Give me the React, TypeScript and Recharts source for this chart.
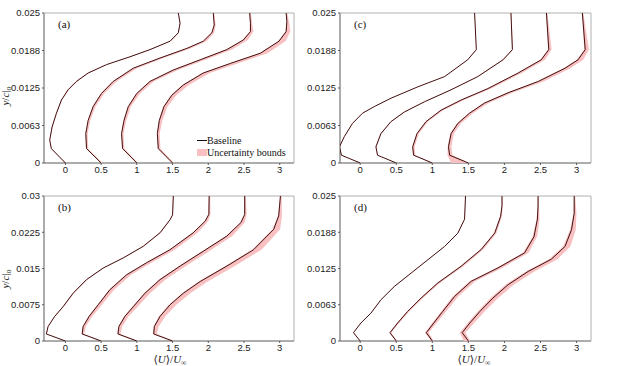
import React from 'react';
import { ScatterChart, Scatter, XAxis, YAxis } from 'recharts';

// each point: [u, y, band below, band above]
type P = [number, number, number, number];

const xTicks = [0, 0.5, 1, 1.5, 2, 2.5, 3];

const yTicks025 = [0, 0.00625, 0.0125, 0.01875, 0.025];
const yLabels025 = ['0', '0.0063', '0.0125', '0.0188', '0.025'];
const yMinor025 = [
  0, 0.00125, 0.0025, 0.00375, 0.005, 0.00625, 0.0075, 0.00875, 0.01, 0.01125, 0.0125,
  0.01375, 0.015, 0.01625, 0.0175, 0.01875, 0.02, 0.02125, 0.0225, 0.02375, 0.025,
];

const yTicks03 = [0, 0.0075, 0.015, 0.0225, 0.03];
const yLabels03 = ['0', '0.0075', '0.015', '0.0225', '0.03'];
const yMinor03 = [
  0, 0.0015, 0.003, 0.0045, 0.006, 0.0075, 0.009, 0.0105, 0.012, 0.0135, 0.015,
  0.0165, 0.018, 0.0195, 0.021, 0.0225, 0.024, 0.0255, 0.027, 0.0285, 0.03,
];

// panel (a)
const a1: P[] = [
  [0, 0, 0.003, 0.006], [-0.197, 0.0024, 0.003, 0.006], [-0.22, 0.0038, 0.003, 0.006],
  [-0.187, 0.006, 0.003, 0.006], [-0.126, 0.0083, 0.003, 0.008], [-0.056, 0.0105, 0.003, 0.01],
  [0.037, 0.0122, 0.004, 0.012], [0.154, 0.0136, 0.004, 0.014], [0.318, 0.015, 0.004, 0.014],
  [0.576, 0.0164, 0.004, 0.014], [0.903, 0.0177, 0.004, 0.014], [1.184, 0.0189, 0.004, 0.014],
  [1.465, 0.0203, 0.004, 0.012], [1.58, 0.0217, 0.003, 0.008], [1.605, 0.0233, 0.003, 0.006],
  [1.58, 0.025, 0.003, 0.006],
];
const a2: P[] = [
  [0.5, 0, 0.005, 0.015], [0.295, 0.0024, 0.005, 0.022], [0.285, 0.0049, 0.006, 0.027],
  [0.318, 0.0071, 0.006, 0.03], [0.388, 0.0094, 0.008, 0.033], [0.505, 0.0116, 0.008, 0.039],
  [0.67, 0.0136, 0.01, 0.045], [0.95, 0.0158, 0.01, 0.052], [1.325, 0.0175, 0.01, 0.052],
  [1.7, 0.0191, 0.01, 0.052], [1.93, 0.0203, 0.008, 0.045], [2.05, 0.0217, 0.006, 0.033],
  [2.083, 0.023, 0.004, 0.021], [2.07, 0.025, 0.003, 0.012],
];
const a3: P[] = [
  [1, 0, 0.005, 0.015], [0.8, 0.0024, 0.006, 0.024], [0.786, 0.0049, 0.006, 0.027],
  [0.82, 0.0071, 0.008, 0.033], [0.88, 0.0094, 0.008, 0.037], [1.0, 0.0116, 0.01, 0.045],
  [1.184, 0.0136, 0.012, 0.052], [1.51, 0.0155, 0.014, 0.065], [1.886, 0.0172, 0.015, 0.075],
  [2.26, 0.0189, 0.015, 0.075], [2.49, 0.0205, 0.012, 0.063], [2.59, 0.0219, 0.008, 0.042],
  [2.59, 0.0233, 0.005, 0.024], [2.58, 0.025, 0.004, 0.015],
];
const a4: P[] = [
  [1.5, 0, 0.006, 0.018], [1.3, 0.0024, 0.008, 0.03], [1.287, 0.0049, 0.008, 0.033],
  [1.315, 0.0071, 0.01, 0.042], [1.38, 0.0094, 0.012, 0.05], [1.49, 0.0113, 0.014, 0.062],
  [1.65, 0.013, 0.016, 0.078], [1.93, 0.015, 0.018, 0.092], [2.31, 0.0166, 0.02, 0.1],
  [2.73, 0.0183, 0.02, 0.1], [2.99, 0.0203, 0.016, 0.09], [3.09, 0.0219, 0.01, 0.06],
  [3.1, 0.0236, 0.006, 0.03], [3.09, 0.025, 0.004, 0.015],
];

// panel (b)
const b1: P[] = [
  [0, 0, 0.003, 0.006], [-0.267, 0.00145, 0.003, 0.006], [-0.243, 0.003, 0.003, 0.006],
  [-0.15, 0.0051, 0.003, 0.008], [-0.033, 0.0071, 0.003, 0.01], [0.108, 0.0099, 0.004, 0.012],
  [0.295, 0.0127, 0.004, 0.014], [0.529, 0.0151, 0.004, 0.014], [0.81, 0.0172, 0.004, 0.014],
  [1.09, 0.0196, 0.004, 0.014], [1.325, 0.0224, 0.004, 0.012], [1.465, 0.0251, 0.003, 0.008],
  [1.5, 0.0261, 0.003, 0.006], [1.51, 0.03, 0.003, 0.006],
];
const b2: P[] = [
  [0.5, 0, 0.005, 0.015], [0.234, 0.00145, 0.006, 0.03], [0.248, 0.003, 0.008, 0.037],
  [0.332, 0.0051, 0.01, 0.045], [0.459, 0.0075, 0.01, 0.052], [0.622, 0.0106, 0.012, 0.06],
  [0.856, 0.0137, 0.012, 0.063], [1.137, 0.0162, 0.012, 0.067], [1.465, 0.0189, 0.012, 0.067],
  [1.79, 0.0224, 0.01, 0.06], [1.956, 0.0248, 0.008, 0.042], [2.008, 0.0262, 0.005, 0.022],
  [2.012, 0.03, 0.004, 0.015],
];
const b3: P[] = [
  [1, 0, 0.006, 0.018], [0.735, 0.00145, 0.008, 0.037], [0.749, 0.003, 0.01, 0.045],
  [0.833, 0.0051, 0.012, 0.052], [0.95, 0.0071, 0.014, 0.06], [1.114, 0.0099, 0.015, 0.072],
  [1.325, 0.0127, 0.016, 0.078], [1.605, 0.0155, 0.016, 0.082], [1.933, 0.0186, 0.016, 0.082],
  [2.26, 0.0217, 0.014, 0.075], [2.457, 0.0245, 0.01, 0.052], [2.51, 0.0262, 0.006, 0.027],
  [2.51, 0.03, 0.004, 0.015],
];
const b4: P[] = [
  [1.5, 0, 0.008, 0.022], [1.236, 0.00145, 0.01, 0.045], [1.245, 0.003, 0.012, 0.06],
  [1.325, 0.0051, 0.016, 0.075], [1.465, 0.0075, 0.018, 0.087], [1.652, 0.0099, 0.02, 0.097],
  [1.886, 0.0123, 0.022, 0.105], [2.26, 0.0155, 0.022, 0.11], [2.635, 0.0189, 0.022, 0.11],
  [2.916, 0.0231, 0.018, 0.09], [2.986, 0.0259, 0.01, 0.045], [3.01, 0.03, 0.005, 0.018],
];

// panel (c)
const c1: P[] = [
  [0, 0, 0.002, 0.004], [-0.26, 0.0013, 0.002, 0.004], [-0.287, 0.0027, 0.002, 0.004],
  [-0.22, 0.0044, 0.002, 0.004], [-0.107, 0.0066, 0.002, 0.004], [0.032, 0.0083, 0.002, 0.004],
  [0.195, 0.0094, 0.002, 0.004], [0.427, 0.0108, 0.002, 0.004], [0.8, 0.0127, 0.002, 0.005],
  [1.17, 0.0144, 0.002, 0.005], [1.49, 0.0172, 0.002, 0.005], [1.61, 0.0189, 0.002, 0.004],
  [1.586, 0.025, 0.002, 0.004],
];
const c2: P[] = [
  [0.5, 0, 0.003, 0.006], [0.24, 0.0013, 0.003, 0.008], [0.218, 0.0027, 0.003, 0.008],
  [0.287, 0.0049, 0.004, 0.01], [0.427, 0.0069, 0.004, 0.01], [0.612, 0.0085, 0.004, 0.012],
  [0.89, 0.0102, 0.004, 0.012], [1.26, 0.0122, 0.004, 0.012], [1.63, 0.0144, 0.004, 0.012],
  [1.98, 0.0172, 0.004, 0.012], [2.11, 0.0189, 0.003, 0.01], [2.09, 0.025, 0.003, 0.006],
];
const c3: P[] = [
  [1, 0, 0.006, 0.015], [0.74, 0.0013, 0.008, 0.026], [0.728, 0.0027, 0.008, 0.026],
  [0.788, 0.0049, 0.008, 0.026], [0.913, 0.0069, 0.008, 0.029], [1.12, 0.0088, 0.01, 0.034],
  [1.4, 0.0105, 0.012, 0.042], [1.77, 0.0124, 0.012, 0.047], [2.19, 0.015, 0.014, 0.052],
  [2.51, 0.0172, 0.014, 0.052], [2.615, 0.0189, 0.01, 0.039], [2.582, 0.025, 0.004, 0.013],
];
const c4: P[] = [
  [1.5, 0, 0.24, 0.013], [1.24, 0.0013, 0.03, 0.04], [1.224, 0.0027, 0.012, 0.04],
  [1.26, 0.0049, 0.012, 0.04], [1.354, 0.0066, 0.012, 0.042], [1.516, 0.0083, 0.014, 0.047],
  [1.725, 0.01, 0.016, 0.055], [2.05, 0.0117, 0.018, 0.062], [2.47, 0.0136, 0.02, 0.072],
  [2.84, 0.0158, 0.02, 0.075], [3.02, 0.0172, 0.018, 0.072], [3.12, 0.0189, 0.014, 0.052],
  [3.08, 0.025, 0.004, 0.013],
];

// panel (d)
const d1: P[] = [
  [0, 0, 0.002, 0.004], [-0.093, 0.00144, 0.002, 0.004], [0.009, 0.0031, 0.002, 0.004],
  [0.148, 0.0048, 0.002, 0.005], [0.287, 0.0071, 0.002, 0.005], [0.473, 0.0094, 0.002, 0.005],
  [0.705, 0.0117, 0.002, 0.005], [0.937, 0.014, 0.002, 0.005], [1.17, 0.0163, 0.002, 0.005],
  [1.354, 0.0186, 0.002, 0.005], [1.447, 0.021, 0.002, 0.004], [1.46, 0.025, 0.002, 0.004],
];
const d2: P[] = [
  [0.5, 0, 0.006, 0.013], [0.413, 0.00144, 0.008, 0.018], [0.519, 0.0031, 0.01, 0.021],
  [0.658, 0.0051, 0.01, 0.023], [0.844, 0.0074, 0.01, 0.026], [1.076, 0.01, 0.012, 0.029],
  [1.4, 0.0129, 0.012, 0.031], [1.679, 0.0158, 0.012, 0.031], [1.865, 0.0186, 0.01, 0.026],
  [1.947, 0.0215, 0.008, 0.018], [1.966, 0.0233, 0.005, 0.01], [1.966, 0.025, 0.004, 0.008],
];
const d3: P[] = [
  [1, 0, 0.015, 0.02], [0.917, 0.00144, 0.02, 0.032], [1.02, 0.0031, 0.022, 0.039],
  [1.145, 0.0051, 0.024, 0.045], [1.31, 0.0077, 0.025, 0.052], [1.54, 0.0103, 0.025, 0.055],
  [1.91, 0.0126, 0.025, 0.058], [2.28, 0.0152, 0.022, 0.055], [2.41, 0.018, 0.018, 0.044],
  [2.457, 0.021, 0.012, 0.029], [2.466, 0.0233, 0.006, 0.013], [2.466, 0.025, 0.004, 0.008],
];
const d4: P[] = [
  [1.5, 0, 0.06, 0.026], [1.414, 0.00144, 0.035, 0.045], [1.52, 0.0031, 0.03, 0.058],
  [1.66, 0.0051, 0.032, 0.065], [1.84, 0.0074, 0.035, 0.072], [2.05, 0.0097, 0.035, 0.078],
  [2.33, 0.012, 0.035, 0.085], [2.65, 0.0141, 0.032, 0.085], [2.84, 0.0163, 0.028, 0.075],
  [2.93, 0.0192, 0.02, 0.058], [2.967, 0.022, 0.01, 0.032], [2.967, 0.025, 0.005, 0.013],
];

const LINE = '#421010';
const BAND = '#f8c0c0';
const AXIS = '#5a5a5a';
const BOX = '#b0b0b0';
const SANS = '"Liberation Sans", Arial, sans-serif';
const SERIF = '"Liberation Serif", "DejaVu Serif", serif';

const panels = [
  { label: '(a)', left: 0, top: 0, width: 311, height: 183, yw: 44, mr: 17, mt: 13, xh: 20,
    xMin: -0.3, yMax: 0.025, yTicks: yTicks025, yLabels: yLabels025, yMinor: yMinor025, profiles: [a1, a2, a3, a4] },
  { label: '(b)', left: 0, top: 183, width: 311, height: 183, yw: 44, mr: 17, mt: 13, xh: 25,
    xMin: -0.3, yMax: 0.03, yTicks: yTicks03, yLabels: yLabels03, yMinor: yMinor03, profiles: [b1, b2, b3, b4] },
  { label: '(c)', left: 296, top: 0, width: 326, height: 183, yw: 44, mr: 31, mt: 13, xh: 20,
    xMin: -0.28, yMax: 0.025, yTicks: yTicks025, yLabels: yLabels025, yMinor: yMinor025, profiles: [c1, c2, c3, c4] },
  { label: '(d)', left: 296, top: 183, width: 326, height: 183, yw: 44, mr: 31, mt: 13, xh: 25,
    xMin: -0.28, yMax: 0.025, yTicks: yTicks025, yLabels: yLabels025, yMinor: yMinor025, profiles: [d1, d2, d3, d4] },
];

const noDot = () => <g />;

const bandShape = (props: any) => {
  const pts = (props.points || []) as { x: number; y: number }[];
  return <polygon points={pts.map((p) => `${p.x},${p.y}`).join(' ')} fill={BAND} stroke="none" />;
};

function bandOutline(p: P[]) {
  const hi = p.map(([u, y, , dh]) => ({ u: u + dh, y }));
  const lo = p.map(([u, y, dl]) => ({ u: u - dl, y })).reverse();
  return [...hi, ...lo];
}

const tickStyle = { fontSize: 9.5, fill: '#222', fontFamily: SANS };

function Panel({ cfg }: { cfg: (typeof panels)[number] }) {
  const fmt = (v: number) => {
    const i = cfg.yTicks.indexOf(v);
    return i >= 0 ? cfg.yLabels[i] : '';
  };
  return (
    <div style={{ position: 'absolute', left: cfg.left, top: cfg.top }}>
      <ScatterChart width={cfg.width} height={cfg.height} margin={{ top: cfg.mt, right: cfg.mr, bottom: 0, left: 0 }}>
        <XAxis type="number" dataKey="u" domain={[cfg.xMin, 3.2]} ticks={xTicks} interval={0}
          allowDataOverflow height={cfg.xh} tickSize={2} tickMargin={1} tick={tickStyle}
          axisLine={{ stroke: AXIS }} tickLine={{ stroke: AXIS }} />
        <YAxis type="number" dataKey="y" domain={[0, cfg.yMax]} ticks={cfg.yTicks} interval={0}
          allowDataOverflow width={cfg.yw} tickSize={2} tickMargin={2} tick={tickStyle} tickFormatter={fmt}
          axisLine={{ stroke: AXIS }} tickLine={{ stroke: AXIS }} />
        <XAxis xAxisId="top" orientation="top" mirror type="number" domain={[cfg.xMin, 3.2]} ticks={xTicks}
          interval={0} height={1} tick={false} tickSize={2} axisLine={{ stroke: BOX }} tickLine={{ stroke: BOX }} />
        <YAxis yAxisId="right" orientation="right" mirror type="number" domain={[0, cfg.yMax]} ticks={cfg.yMinor}
          interval={0} width={1} tick={false} tickSize={2} axisLine={{ stroke: BOX }} tickLine={{ stroke: BOX }} />
        <YAxis yAxisId="leftMinor" orientation="left" mirror type="number" domain={[0, cfg.yMax]} ticks={cfg.yMinor}
          interval={0} width={1} tick={false} tickSize={2} axisLine={false} tickLine={{ stroke: BOX }} />
        {cfg.profiles.map((p, i) => (
          <Scatter key={`band${i}`} data={bandOutline(p)} line={bandShape} shape={noDot} isAnimationActive={false} />
        ))}
        {cfg.profiles.map((p, i) => (
          <Scatter key={`line${i}`} data={p.map(([u, y]) => ({ u, y }))} line={{ stroke: LINE, strokeWidth: 1 }}
            shape={noDot} isAnimationActive={false} />
        ))}
      </ScatterChart>
      <div style={{ position: 'absolute', left: cfg.yw + 14, top: cfg.mt + 5, fontFamily: SERIF, fontSize: 11, color: '#111' }}>
        {cfg.label}
      </div>
    </div>
  );
}

function YLabel({ cy }: { cy: number }) {
  return (
    <text x={9} y={cy} transform={`rotate(-90 9 ${cy})`} textAnchor="middle" fontFamily={SERIF} fontSize={11} fill="#222">
      <tspan fontStyle="italic">y</tspan>/<tspan fontStyle="italic">c</tspan>|
      <tspan fontSize={8} dy={2}>o</tspan>
    </text>
  );
}

function XLabel({ left }: { left: number }) {
  return (
    <div style={{ position: 'absolute', left, top: 354, width: 60, textAlign: 'center', fontFamily: SERIF,
      fontSize: 11, color: '#222', whiteSpace: 'nowrap', lineHeight: '10px' }}>
      ⟨<i>U</i>⟩/<i>U</i>
      <span style={{ fontSize: 7.5, position: 'relative', top: 1.5 }}>∞</span>
    </div>
  );
}

export default function App() {
  return (
    <div style={{ position: 'absolute', left: 0, top: 0, width: 622, height: 366, background: '#fff', overflow: 'hidden' }}>
      {panels.map((cfg) => (
        <Panel key={cfg.label} cfg={cfg} />
      ))}
      <svg width={20} height={366} style={{ position: 'absolute', left: 0, top: 0 }}>
        <YLabel cy={96} />
        <YLabel cy={279} />
      </svg>
      <XLabel left={140} />
      <XLabel left={444} />
      <div style={{ position: 'absolute', left: 197, top: 135, fontFamily: SERIF, fontSize: 10, color: '#111', lineHeight: '11px' }}>
        <div style={{ display: 'flex', alignItems: 'center' }}>
          <span style={{ display: 'inline-block', width: 10, height: 1.2, background: '#111' }} />
          <span>Baseline</span>
        </div>
        <div style={{ display: 'flex', alignItems: 'center', marginTop: 1 }}>
          <span style={{ display: 'inline-block', width: 10, height: 7, background: BAND }} />
          <span>Uncertainty bounds</span>
        </div>
      </div>
    </div>
  );
}
